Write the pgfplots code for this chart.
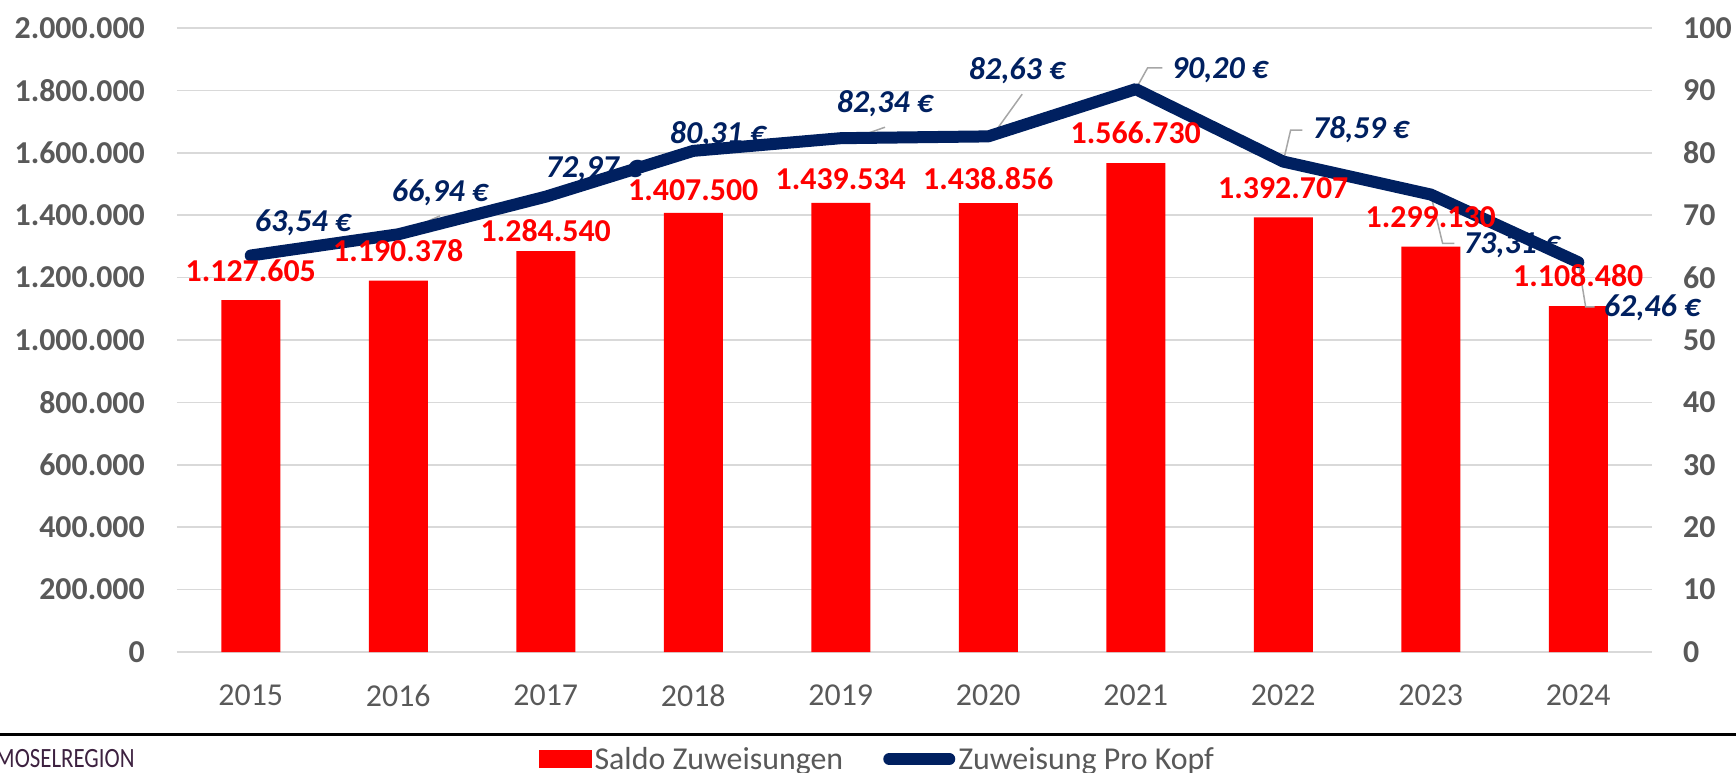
\documentclass[border=0pt]{standalone}
\usepackage{fontspec}
\setmainfont{Carlito}
\usepackage{pgfplots}
\usepackage{pgfplotstable}
\pgfplotsset{compat=1.18}

\definecolor{navy}{HTML}{002060}
\definecolor{barred}{HTML}{FF0000}
\definecolor{txtgray}{HTML}{595959}
\definecolor{gridgray}{HTML}{D9D9D9}
\definecolor{leader}{HTML}{A6A6A6}
\definecolor{mosel}{HTML}{3D2140}

\newcommand{\lbl}{\fontsize{32}{38}\selectfont}

% year index, Saldo Zuweisungen, Zuweisung pro Kopf
\pgfplotstableread{
x saldo kopf
0 1127605 63.54
1 1190378 66.94
2 1284540 72.97
3 1407500 80.31
4 1439534 82.34
5 1438856 82.63
6 1566730 90.20
7 1392707 78.59
8 1299130 73.31
9 1108480 62.46
}\data

\pgfplotsset{
  base/.style={
    width=1475bp, height=624bp, scale only axis,
    xmin=-0.5, xmax=9.5,
    axis line style={draw=none},
    tick style={draw=none},
    major tick length=0pt,
    /pgf/number format/assume math mode=true,
  },
}

\begin{document}
\begin{tikzpicture}
\useasboundingbox (-177bp,-121bp) rectangle (1559bp,652bp);

% left axis: bars
\begin{axis}[base,
    ymin=0, ymax=2000000,
    ytick={0,200000,...,2000000},
    scaled y ticks=false,
    ymajorgrids,
    grid style={gridgray, line width=1.5bp},
    xtick={0,...,9},
    xticklabels={2015,2016,2017,2018,2019,2020,2021,2022,2023,2024},
    xticklabel style={font=\lbl, text=txtgray, anchor=north, inner sep=0pt, yshift=-33bp},
    yticklabel style={font=\lbl\bfseries, text=txtgray, anchor=east, inner sep=0pt, xshift=-32bp,
      /pgf/number format/fixed, /pgf/number format/precision=0, /pgf/number format/1000 sep={.}},
]
\addplot[ybar, bar width=59bp, fill=barred, draw=none] table[x=x, y=saldo] {\data};
\end{axis}

% right axis: per-capita line and all data labels
\begin{axis}[base,
    ymin=0, ymax=100,
    ytick={0,10,...,100},
    hide x axis,
    yticklabel pos=right,
    yticklabel style={font=\lbl\bfseries, text=txtgray, anchor=west, inner sep=0pt, xshift=31bp},
    clip=false,
    legend columns=2,
    legend style={draw=none, fill=none, inner sep=0pt, at={(0.2454,-0.1715)}, anchor=west,
      font=\lbl, text=txtgray,
      nodes={inner xsep=3bp, inner ysep=0pt, anchor=west},
      /tikz/every even column/.append style={column sep=37bp}},
]
\addlegendimage{legend image code/.code={\fill[barred] (0bp,-8.5bp) rectangle (52bp,8.5bp);}}
\addlegendentry{Saldo Zuweisungen}

% leader lines
\draw[leader, line width=1.5bp] (axis cs:1,66.9) -- (axis cs:1.283,69.9);
\draw[leader, line width=1.5bp] (axis cs:4,81.6) -- (axis cs:4.3,84.1);
\draw[leader, line width=1.5bp] (axis cs:5.005,82.0) -- (axis cs:5.23,89.4);
\draw[leader, line width=1.5bp] (axis cs:6,90.2) -- (axis cs:6.08,93.6) -- (axis cs:6.18,93.6);
\draw[leader, line width=1.5bp] (axis cs:7,78.6) -- (axis cs:7.05,83.65) -- (axis cs:7.13,83.65);
\draw[leader, line width=1.5bp] (axis cs:8,73.3) -- (axis cs:8.08,65.5) -- (axis cs:8.16,65.5);
\draw[leader, line width=1.5bp] (axis cs:9,62.5) -- (axis cs:9.05,55.3) -- (axis cs:9.11,55.3);

\addplot[navy, line width=12bp, line join=round, line cap=round,
  legend image code/.code={\path (0bp,0bp) -- (60bp,0bp);
    \draw[navy, line width=11bp, line cap=round] (5.5bp,0bp) -- (54.5bp,0bp);}]
  table[x=x, y=kopf] {\data};
\addlegendentry{Zuweisung Pro Kopf}

% bar labels
\begin{scope}[every node/.style={font=\lbl\bfseries, text=barred, inner sep=0pt}]
\node at (axis cs:0,61.06) {1.127.605};
\node at (axis cs:1,64.26) {1.190.378};
\node at (axis cs:2,67.47) {1.284.540};
\node at (axis cs:3,74.04) {1.407.500};
\node at (axis cs:4,75.80) {1.439.534};
\node at (axis cs:5,75.80) {1.438.856};
\node at (axis cs:6,83.17) {1.566.730};
\node at (axis cs:7,74.36) {1.392.707};
\node at (axis cs:8,69.71) {1.299.130};
\node at (axis cs:9,60.26) {1.108.480};
\end{scope}

% per-capita labels
\begin{scope}[every node/.style={font=\lbl\bfseries\itshape, text=navy, inner sep=0pt}]
\node at (axis cs:0.354,68.75) {63,54 €};
\node at (axis cs:1.283,73.56) {66,94 €};
\node at (axis cs:2.327,77.40) {72,97 €};
\node at (axis cs:3.168,82.85) {80,31 €};
\node at (axis cs:4.300,87.82) {82,34 €};
\node at (axis cs:5.195,93.11) {82,63 €};
\node at (axis cs:6.571,93.27) {90,20 €};
\node at (axis cs:7.527,83.65) {78,59 €};
\node at (axis cs:8.551,65.22) {73,31 €};
\node at (axis cs:9.500,55.13) {62,46 €};
\end{scope}
\end{axis}

% footer rule and logo text
\draw[black, line width=3.5bp] (-177bp,-82.5bp) -- (1559bp,-82.5bp);
\node[anchor=west, inner sep=0pt, text=mosel] at (-182bp,-107bp)
  {\scalebox{0.82}[1]{\fontsize{28}{32}\selectfont MOSELREGION}};
\end{tikzpicture}
\end{document}
